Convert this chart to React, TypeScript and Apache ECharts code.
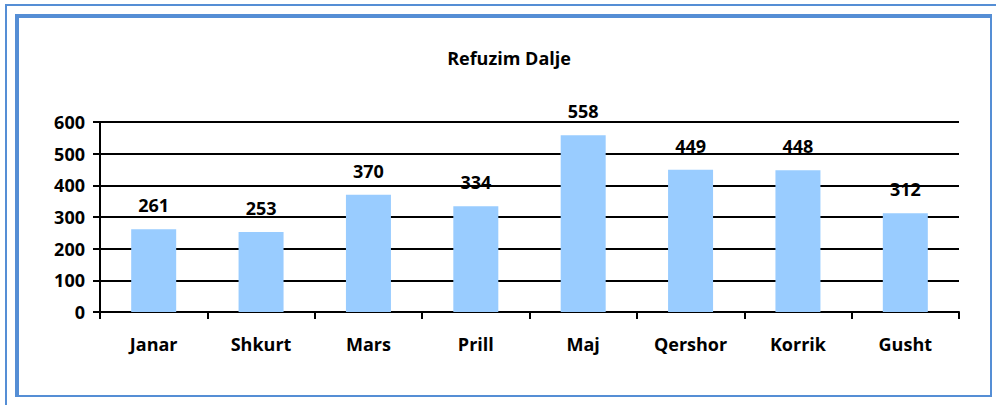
import React, { useEffect, useRef } from "react";
import * as echarts from "echarts";

const categories = ["Janar", "Shkurt", "Mars", "Prill", "Maj", "Qershor", "Korrik", "Gusht"];
const values = [261, 253, 370, 334, 558, 449, 448, 312];
const yTicks = [0, 100, 200, 300, 400, 500, 600];

const FONT = "'Open Sans', sans-serif";

export default function App() {
  const ref = useRef<HTMLDivElement>(null);
  useEffect(() => {
    if (!ref.current) return;
    const chart = echarts.init(ref.current, null, { renderer: "svg" });
    const blue = "#558ED5";
    chart.setOption({
      animation: false,
      backgroundColor: "#ffffff",
      title: {
        text: "Refuzim Dalje",
        left: 504,
        top: 44,
        textAlign: "center",
        textStyle: { fontFamily: FONT, fontWeight: "bold", fontSize: 18, color: "#000" },
      },
      grid: { left: 100, right: 37, top: 122, bottom: 93 },
      xAxis: {
        type: "category",
        data: categories,
        axisLine: { lineStyle: { color: "#000", width: 2 } },
        axisTick: { show: true, alignWithLabel: false, length: 7, lineStyle: { color: "#000", width: 2 } },
        axisLabel: { fontFamily: FONT, fontWeight: "bold", fontSize: 18, color: "#000", margin: 23 },
        splitLine: { show: false },
      },
      yAxis: {
        type: "value",
        min: yTicks[0],
        max: yTicks[yTicks.length - 1],
        interval: 100,
        axisLine: { show: true, lineStyle: { color: "#000", width: 2 } },
        axisTick: { show: true, length: 7, lineStyle: { color: "#000", width: 2 } },
        axisLabel: { fontFamily: FONT, fontWeight: "bold", fontSize: 18, color: "#000", margin: 15 },
        splitLine: { show: true, lineStyle: { color: "#000", width: 2 } },
      },
      series: [
        {
          type: "bar",
          data: values,
          barWidth: 45,
          itemStyle: { color: "#99CCFF" },
          label: {
            show: true,
            position: "top",
            distance: 15,
            fontFamily: FONT,
            fontWeight: "bold",
            fontSize: 18,
            color: "#000",
          },
        },
      ],
      graphic: [
        { type: "rect", shape: { x: 5, y: 4, width: 2, height: 401 }, style: { fill: blue }, silent: true },
        { type: "rect", shape: { x: 5, y: 4, width: 991, height: 2 }, style: { fill: blue }, silent: true },
        { type: "rect", shape: { x: 15, y: 14, width: 4, height: 383 }, style: { fill: blue }, silent: true },
        { type: "rect", shape: { x: 15, y: 14, width: 977, height: 4 }, style: { fill: blue }, silent: true },
        { type: "rect", shape: { x: 990, y: 14, width: 2, height: 383 }, style: { fill: blue }, silent: true },
        { type: "rect", shape: { x: 15, y: 395, width: 977, height: 2 }, style: { fill: blue }, silent: true },
      ],
    });
    return () => chart.dispose();
  }, []);
  return (
    <div
      ref={ref}
      style={{ position: "fixed", left: 0, top: 0, width: 996, height: 405 }}
    />
  );
}
